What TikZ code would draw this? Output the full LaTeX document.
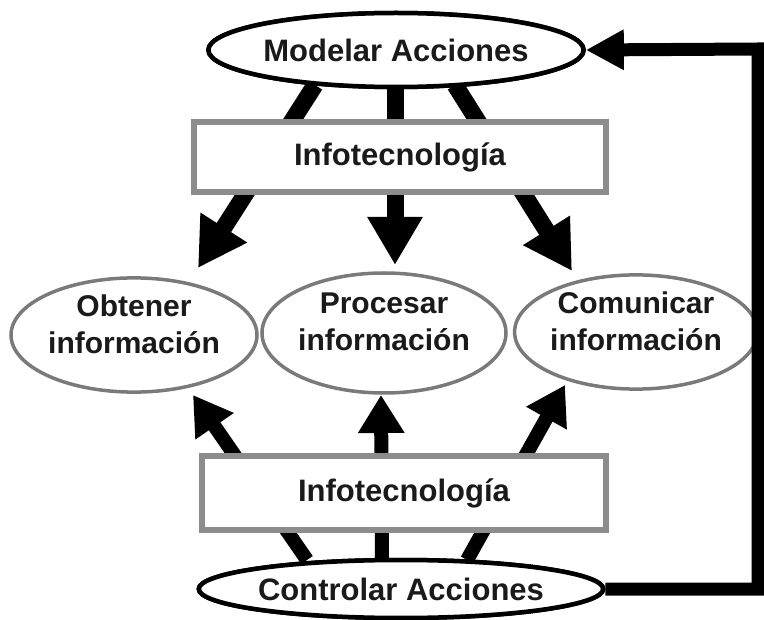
\documentclass[tikz,border=0pt]{standalone}
\usepackage{fontspec}
\setmainfont{Liberation Sans}
\usetikzlibrary{shapes.geometric,arrows.meta,calc}
\definecolor{boxgray}{HTML}{8C8C8C}
\definecolor{ellgray}{HTML}{7A7A7A}
\definecolor{txt}{HTML}{1A1A1A}
\tikzset{
  mainell/.style={ellipse, draw=black, line width=4.5pt, fill=white, inner sep=0pt,
    text=txt, font=\fontsize{31}{36}\selectfont\bfseries},
  infoell/.style={ellipse, draw=ellgray, line width=3.5pt, fill=white, inner sep=0pt,
    text=txt, align=center, text depth=22pt, font=\fontsize{30}{37}\selectfont\bfseries},
  techbox/.style={rectangle, draw=boxgray, line width=6pt, fill=white, inner sep=0pt,
    text=txt, font=\fontsize{31}{36}\selectfont\bfseries},
  bigarrow/.style={line width=17pt, -{Triangle[length=48pt,width=52pt]}},
  smallarrow/.style={line width=14pt, -{Triangle[length=38pt,width=44pt]}},
  fbline/.style={line width=13pt, line join=miter, -{Triangle[length=38pt,width=38pt]}}
}
\begin{document}
\begin{tikzpicture}[x=1pt,y=-1pt]
\useasboundingbox[fill=white] (0,0) rectangle (764,620);
% nodes
\node[mainell, minimum width=366pt, minimum height=74pt] (mod) at (396,50) {Modelar Acciones};
\node[mainell, minimum width=376pt, minimum height=58pt] (con) at (401,589) {Controlar Acciones};
\node[infoell, minimum width=246pt, minimum height=114pt] (obt) at (134,335) {Obtener\\información};
\node[infoell, minimum width=244pt, minimum height=120pt] (pro) at (384,333) {Procesar\\información};
\node[infoell, minimum width=240pt, minimum height=112pt] (com) at (636,332) {Comunicar\\información};
% arrows (behind boxes)
\draw[bigarrow] ($(mod)+(-81,35)$) -- ($(obt)+(64,-67)$);
\draw[bigarrow] ($(mod)+(-1,37)$) -- ($(pro)+(11,-68)$);
\draw[bigarrow] ($(mod)+(59,35)$) -- ($(com)+(-64,-61)$);
\draw[smallarrow] ($(con)+(-94,-29)$) -- ($(obt)+(59,60)$);
\draw[smallarrow] ($(con)+(-19,-30)$) -- ($(pro)+(-3,62)$);
\draw[smallarrow] ($(con)+(66,-29)$) -- ($(com)+(-71,53)$);
% boxes over arrows
\node[techbox, minimum width=412pt, minimum height=70pt] (t1) at (400,157) {Infotecnología};
\node[techbox, minimum width=404pt, minimum height=74pt] (t2) at (404,493) {Infotecnología};
% redraw ellipses on top
\node[mainell, minimum width=366pt, minimum height=74pt] (mod2) at (mod) {Modelar Acciones};
\node[mainell, minimum width=376pt, minimum height=58pt] (con2) at (con) {Controlar Acciones};
% feedback
\coordinate (c1) at (758,589);
\coordinate (c2) at (758,49);
\draw[fbline] (con.east) -- (c1) -- (c2) -- (mod.east);
\end{tikzpicture}
\end{document}
